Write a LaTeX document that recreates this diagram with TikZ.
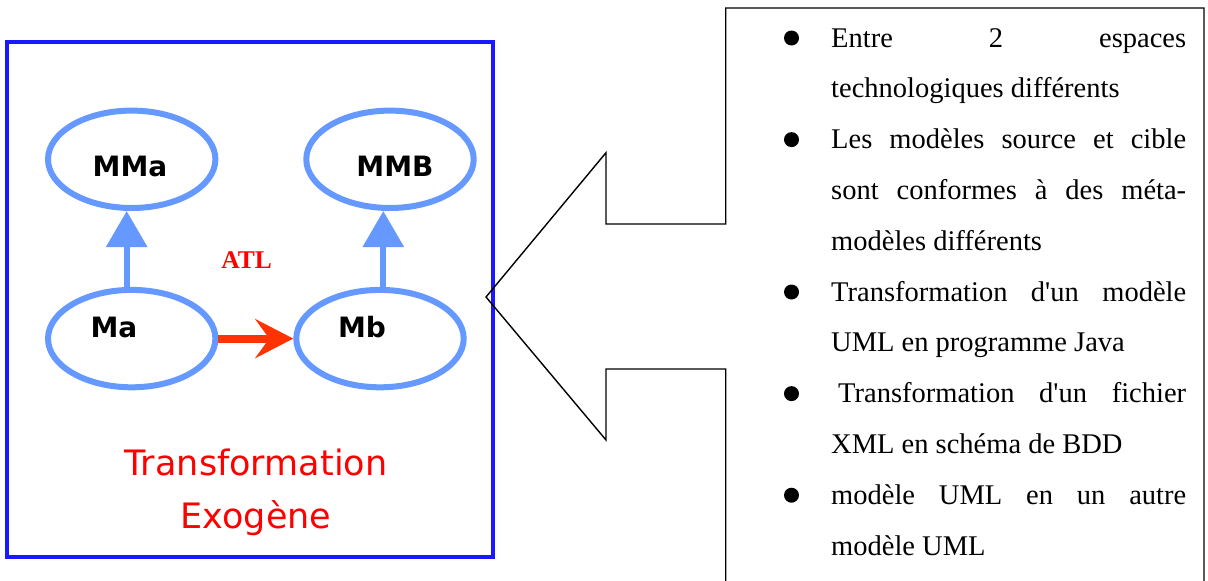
\documentclass[tikz,border=0pt]{standalone}
\usepackage{fontspec}
\setmainfont{Liberation Serif}
\newfontfamily\labelfont{DejaVu Sans}
\usetikzlibrary{shapes.geometric,arrows.meta}

\definecolor{frameblue}{RGB}{25,25,255}
\definecolor{modelblue}{RGB}{102,153,255}
\definecolor{atlorange}{RGB}{255,51,0}
\definecolor{titlered}{RGB}{255,0,0}

\tikzset{
  model/.style={ellipse, draw=modelblue, line width=6pt, minimum width=167.4pt,
    minimum height=97.4pt, inner sep=0pt},
  mlabel/.style={font=\labelfont\bfseries\fontsize{28}{28}\selectfont, inner sep=0pt, text=black},
  conform/.style={draw=modelblue, line width=6pt, -{Triangle[width=40pt,length=36pt]}},
  transfo/.style={draw=atlorange, line width=8pt,
    -{Stealth[width=39pt,length=38pt,inset=14pt]}},
  bodytext/.style={font=\fontsize{28.5}{28.5}\selectfont, anchor=base west, inner sep=0pt},
  titletext/.style={font=\labelfont\fontsize{35}{35}\selectfont, text=titlered,
    anchor=base, inner sep=0pt},
  bullet/.style={fill=black},
  callout/.style={draw=black, line width=1.4pt, line join=miter},
}

\newcommand{\jline}[1]{\makebox[355pt][s]{#1}}

\begin{document}
\begin{tikzpicture}[x=1pt,y=-1pt]
  \useasboundingbox (0,0) rectangle (1208,581);
  \clip (0,0) rectangle (1208,581);
  \fill[white] (0,0) rectangle (1208,581);

  % --- left panel: exogenous transformation ---
  \draw[frameblue, line width=3.8pt] (7,42) rectangle (493,557);

  \node[model, label={[mlabel, xshift=-1.7pt, yshift=-7pt]center:MMa}] (MMa) at (131.7,159.3) {};
  \node[model, label={[mlabel, xshift=5pt, yshift=-7pt]center:MMB}] (MMB) at (390,159.3) {};
  \node[model, label={[mlabel, xshift=-17.7pt, yshift=11.6pt]center:Ma}] (Ma) at (131.7,338.6) {};
  \node[model, label={[mlabel, xshift=-18pt, yshift=11.6pt]center:Mb}] (Mb) at (380,338.6) {};

  \draw[conform] ([xshift=-5pt]Ma.north) -- ([xshift=-5pt]Ma.north |- MMa.south);
  \draw[conform] ([xshift=3.3pt]Mb.north) -- ([xshift=3.3pt]Mb.north |- MMB.south);
  \draw[transfo] (Ma.east) -- (Mb.west);

  \node[font=\bfseries\fontsize{25.5}{25.5}\selectfont, text=titlered, inner sep=0pt]
    (atl) at (246.7,260.5) {ATL};

  \node[titletext] (title1) at (256,475) {Transformation};
  \node[titletext] (title2) at (256,528) {Exogène};

  % --- callout pointing at the left panel ---
  \draw[callout] (725.7,600) -- (725.7,369) -- (606,369) -- (606,440) -- (486,297)
    -- (606,152.7) -- (606,224) -- (725.7,224) -- (725.7,8) -- (1204,8) -- (1204,600);

  % --- bullet list ---
  \foreach \k in {0,2,5,7,9}
    \fill[bullet] (791.5,{47+50.8*\k-9}) circle (7.5pt);

  \node[bodytext] (l0)  at (831,47.0)  {\jline{Entre 2 espaces}};
  \node[bodytext] (l1)  at (831,97.8)  {technologiques différents};
  \node[bodytext] (l2)  at (831,148.6) {\jline{Les modèles source et cible}};
  \node[bodytext] (l3)  at (831,199.4) {\jline{sont conformes à des méta-}};
  \node[bodytext] (l4)  at (831,250.2) {modèles différents};
  \node[bodytext] (l5)  at (831,301.0) {\jline{Transformation d\textquotesingle un modèle}};
  \node[bodytext] (l6)  at (831,351.8) {UML en programme Java};
  \node[bodytext] (l7)  at (831,402.6) {\jline{\hspace{7pt}Transformation d\textquotesingle un fichier}};
  \node[bodytext] (l8)  at (831,453.4) {XML en schéma de BDD};
  \node[bodytext] (l9)  at (831,504.2) {\jline{modèle UML en un autre}};
  \node[bodytext] (l10) at (831,555.0) {modèle UML};
\end{tikzpicture}
\end{document}
